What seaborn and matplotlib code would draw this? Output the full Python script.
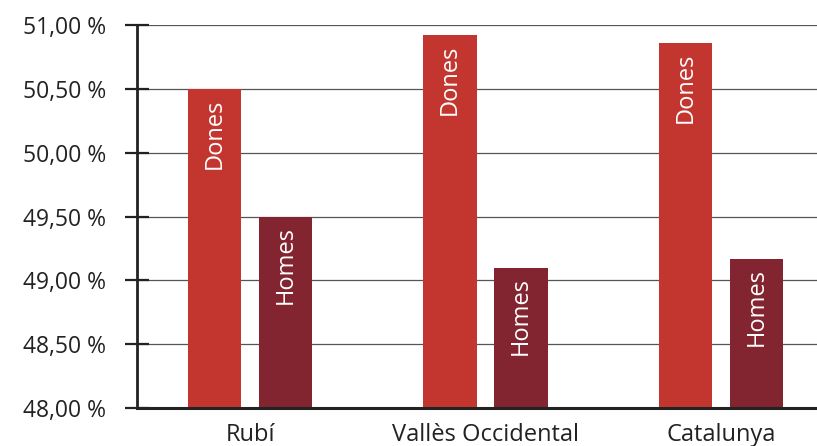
import seaborn as sns
import matplotlib.pyplot as plt
import pandas as pd

territoris = ['Rubí', 'Vallès Occidental', 'Catalunya']
dones = [50.50, 50.92, 50.86]
homes = [49.50, 49.10, 49.17]
sexes = ['Dones', 'Homes']
colors = ['#C3362F', '#832530']

df = pd.DataFrame({
    'territori': territoris * 2,
    'percent': dones + homes,
    'sexe': ['Dones'] * 3 + ['Homes'] * 3,
})

sns.set_style('white')
plt.rcParams['font.family'] = ['Open Sans', 'DejaVu Sans']

fig = plt.figure(figsize=(8.17, 4.46), dpi=100)
ax = fig.add_axes([0.1677, 0.0852, 0.8323, 0.8587])

sns.barplot(data=df, x='territori', y='percent', hue='sexe', palette=colors,
            width=0.603, gap=0.25, saturation=1, linewidth=0, legend=False,
            ax=ax, zorder=2)

ax.set_ylim(48, 51)
ax.set_xlim(-0.48, 2.408)
ax.set_yticks([48, 48.5, 49, 49.5, 50, 50.5, 51])
ax.set_yticklabels([f'{v:.2f} %'.replace('.', ',') for v in ax.get_yticks()])
ax.yaxis.grid(True, color='#555555', linewidth=0.9, zorder=0)
ax.set_axisbelow(True)

for s in ['top', 'right']:
    ax.spines[s].set_visible(False)
ax.spines['left'].set_color('#222222')
ax.spines['left'].set_linewidth(2)
ax.spines['bottom'].set_color('#222222')
ax.spines['bottom'].set_linewidth(2.2)

ax.tick_params(axis='y', left=True, direction='inout', length=17, width=1.6,
               color='#222222', pad=14, labelsize=16.5, labelcolor='#222222')
ax.tick_params(axis='x', bottom=False, length=0, pad=11, labelsize=17,
               labelcolor='#222222')
ax.set_xlabel('')
ax.set_ylabel('')

for cont, lab in zip(ax.containers, sexes):
    for bar in cont:
        ax.annotate(lab, (bar.get_x() + bar.get_width() / 2, bar.get_height()),
                    xytext=(0, -7), textcoords='offset points',
                    rotation=90, ha='center', va='top', color='white', fontsize=17)

plt.savefig('out.png', dpi=100)
